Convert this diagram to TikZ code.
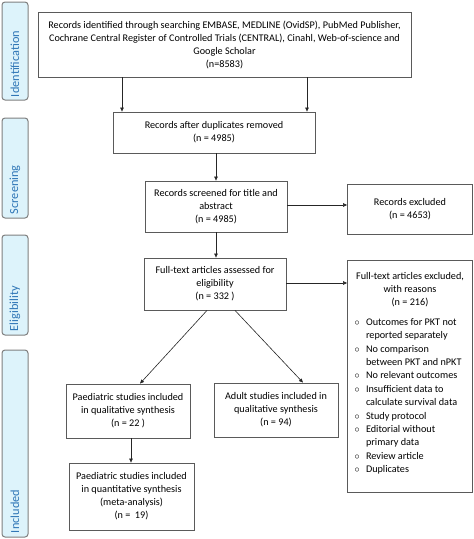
\documentclass[tikz,border=0pt]{standalone}
\usepackage{fontspec}
\setmainfont{Carlito}
\usetikzlibrary{arrows.meta}
\definecolor{boxgray}{HTML}{5A5A5A}
\definecolor{phasegray}{HTML}{7F7F7F}
\definecolor{phasefill}{HTML}{DDF3FB}
\definecolor{phaseblue}{HTML}{2E75B6}
\newcommand\reasonitem[1]{\par\hangindent=15.5pt\hangafter=1\noindent\hspace*{4pt}\makebox[11.5pt][l]{$\circ$}#1}
\begin{document}
\begin{tikzpicture}[x=1pt,y=-1pt,
  box/.style={draw=boxgray, line width=0.8pt, fill=white, align=center, inner sep=0pt,
    font=\fontsize{10.2}{13}\selectfont},
  phase/.style={draw=phasegray, line width=1pt, fill=phasefill, rounded corners=3pt,
    rotate=90, inner sep=0pt, text=phaseblue, align=left, minimum height=26pt,
    font=\fontsize{12.3}{14}\selectfont},
  arr/.style={-{Triangle[length=4pt,width=3.5pt]}, line width=0.6pt, draw=black!85}]
\useasboundingbox (0,0) rectangle (474,539);

% phase labels
\node[phase, minimum width=98pt, text width=92pt] (pid) at (15,51) {Identification};
\node[phase, minimum width=100pt, text width=92pt] (pscr) at (15,168) {Screening};
\node[phase, minimum width=100pt, text width=92pt] (pel) at (15,285) {Eligibility};
\node[phase, minimum width=187pt, text width=179pt] (pinc) at (15,443.5) {Included};

% boxes
\node[box, minimum width=373pt, minimum height=65pt] (ident) at (224.5,44.5)
  {Records identified through searching EMBASE, MEDLINE (OvidSP), PubMed Publisher,\\
   Cochrane Central Register of Controlled Trials (CENTRAL), Cinahl, Web-of-science and\\
   Google Scholar\\(n=8583)};
\node[box, minimum width=202pt, minimum height=41pt] (dup) at (214,132.5)
  {Records after duplicates removed\\(n = 4985)};
\node[box, minimum width=142pt, minimum height=51pt] (screen) at (216,206.5)
  {Records screened for title and\\abstract\\(n = 4985)};
\node[box, minimum width=125pt, minimum height=50pt] (excl) at (410,209)
  {\raisebox{4pt}{\parbox{119pt}{\centering Records excluded\\(n = 4653)}}};
\node[box, minimum width=125pt, minimum height=232pt] (reasons) at (410,376)
  {\parbox[t][222pt][t]{119pt}{\fontsize{10.2}{13.4}\selectfont\vspace*{7pt}\centering Full-text articles excluded,\\with reasons\\(n = 216)\par\vspace{6pt}\raggedright
   \reasonitem{Outcomes for PKT not\newline reported separately}
   \reasonitem{No comparison\newline between PKT and nPKT}
   \reasonitem{No relevant outcomes}
   \reasonitem{Insufficient data to\newline calculate survival data}
   \reasonitem{Study protocol}
   \reasonitem{Editorial without\newline primary data}
   \reasonitem{Review article}
   \reasonitem{Duplicates}\par}};
\node[box, minimum width=142pt, minimum height=52pt] (full) at (215,284)
  {Full-text articles assessed for\\eligibility\\(n = 332 )};
\node[box, minimum width=124pt, minimum height=54pt] (paedq) at (128,411)
  {Paediatric studies included\\in qualitative synthesis\\(n = 22 )};
\node[box, minimum width=124pt, minimum height=54pt] (adult) at (276,410)
  {Adult studies included in\\qualitative synthesis\\(n = 94)};
\node[box, minimum width=125pt, minimum height=67pt] (paedm) at (131.5,496.5)
  {Paediatric studies included\\in quantitative synthesis\\(meta-analysis)\\(n =~~19)};

% connectors
\draw[arr] (122,0 |- ident.south) -- (122,0 |- dup.north);
\draw[arr] (307,0 |- ident.south) -- (307,0 |- dup.north);
\draw[arr] (216,0 |- dup.south) -- (216,0 |- screen.north);
\draw[arr] (screen.east |- 0,205) -- (excl.west |- 0,205);
\draw[arr] (216,0 |- screen.south) -- (216,0 |- full.north);
\draw[arr] (full.east |- 0,283) -- (reasons.west |- 0,283);
\draw[arr] (207,0 |- full.south) -- (140,0 |- paedq.north);
\draw[arr] (235,0 |- full.south) -- (303,0 |- adult.north);
\draw[arr] (131,0 |- paedq.south) -- (131,0 |- paedm.north);
\end{tikzpicture}
\end{document}
